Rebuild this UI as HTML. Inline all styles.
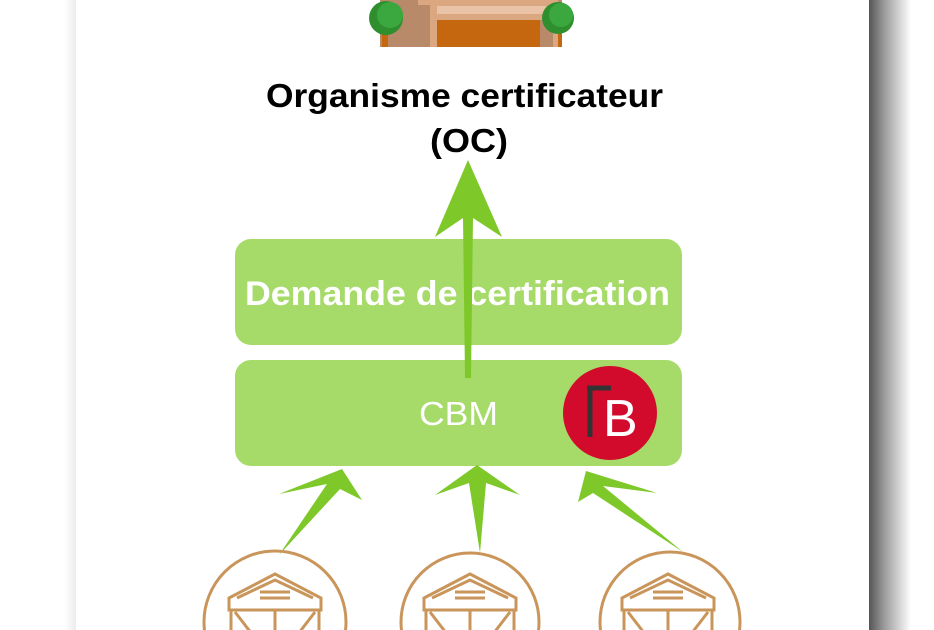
<!DOCTYPE html>
<html><head><meta charset="utf-8"><style>
body{margin:0;width:934px;height:630px;overflow:hidden;background:#fff;font-family:"Liberation Sans",sans-serif}
</style></head><body>
<svg width="934" height="630" viewBox="0 0 934 630" xmlns="http://www.w3.org/2000/svg" style="display:block">
<defs>
<linearGradient id="rs" x1="0" x2="1"><stop offset="0" stop-color="#555"/><stop offset="0.35" stop-color="#999"/><stop offset="1" stop-color="#fff"/></linearGradient>
<linearGradient id="ls" x1="0" x2="1"><stop offset="0" stop-color="#fff"/><stop offset="1" stop-color="#ececec"/></linearGradient>
</defs>
<rect x="64" y="0" width="12" height="630" fill="url(#ls)"/>
<rect x="869" y="0" width="42" height="630" fill="url(#rs)"/>
<!-- building -->
<rect x="380" y="0" width="182" height="47" fill="#b98a6a"/>
<rect x="430" y="0" width="128" height="47" fill="#dba781"/>
<rect x="437" y="6" width="113" height="8" fill="#eac3a6"/>
<rect x="437" y="20" width="103" height="27" fill="#c4670f"/>
<rect x="540" y="20" width="13" height="27" fill="#b98a6a"/>
<rect x="418" y="0" width="12" height="5" fill="#dba781"/>
<rect x="382" y="30" width="6" height="17" fill="#c4670f"/>
<rect x="558" y="30" width="4" height="17" fill="#c4670f"/>
<circle cx="386" cy="18" r="17" fill="#2f8f2f"/><circle cx="390" cy="15" r="13" fill="#3aa83e"/>
<circle cx="558" cy="18" r="16" fill="#2f8f2f"/><circle cx="561" cy="15" r="12" fill="#3aa83e"/>
<text x="266" y="107" textLength="397" lengthAdjust="spacingAndGlyphs" font-size="33" font-weight="bold" fill="#000">Organisme certificateur</text>
<text x="430" y="152" textLength="78" lengthAdjust="spacingAndGlyphs" font-size="33" font-weight="bold" fill="#000">(OC)</text>
<rect x="235" y="239" width="447" height="106" rx="16" fill="#a6db6a"/>
<rect x="235" y="360" width="447" height="106" rx="16" fill="#a6db6a"/>
<text x="245" y="305" textLength="425" lengthAdjust="spacingAndGlyphs" font-size="34" font-weight="bold" fill="#fff">Demande de certification</text>
<text x="419" y="425" textLength="79" lengthAdjust="spacingAndGlyphs" font-size="33" fill="#fff">CBM</text>
<circle cx="610" cy="413" r="47" fill="#d20a2c"/>
<path d="M587 388h24M590 388v49" stroke="#333" stroke-width="5" fill="none"/>
<text x="603" y="436" font-size="52" fill="#fff">B</text>
<g fill="#7ec82a">
<polygon points="468,160 502,237 473,218 471,378 465,378 463,218 435,237"/>
<polygon points="342,469 362,500 340,489 279,555 327,484 279,494"/>
<polygon points="477,465 520,495 486,483 480,553 469,483 435,495"/>
<polygon points="586,471 657,493 603,486 683,552 593,493 578,502"/>
</g>
<g fill="none" stroke="#c9955a" stroke-width="3">
<circle cx="275" cy="622" r="71"/>
<circle cx="470" cy="622" r="69"/>
<circle cx="670" cy="622" r="70"/>
<path transform="translate(275,598)" d="M-46 0l46-24 46 24v12h-92z M-38 0l38-18 38 18 M-44 12v30 M44 12v30 M0 12v30 M-15 -6h30 M-15 0h30 M-40 14l20 26 M40 14l-20 26"/>
<path transform="translate(470,598)" d="M-46 0l46-24 46 24v12h-92z M-38 0l38-18 38 18 M-44 12v30 M44 12v30 M0 12v30 M-15 -6h30 M-15 0h30 M-40 14l20 26 M40 14l-20 26"/>
<path transform="translate(668,598)" d="M-46 0l46-24 46 24v12h-92z M-38 0l38-18 38 18 M-44 12v30 M44 12v30 M0 12v30 M-15 -6h30 M-15 0h30 M-40 14l20 26 M40 14l-20 26"/>
</g>
</svg>
</body></html>
